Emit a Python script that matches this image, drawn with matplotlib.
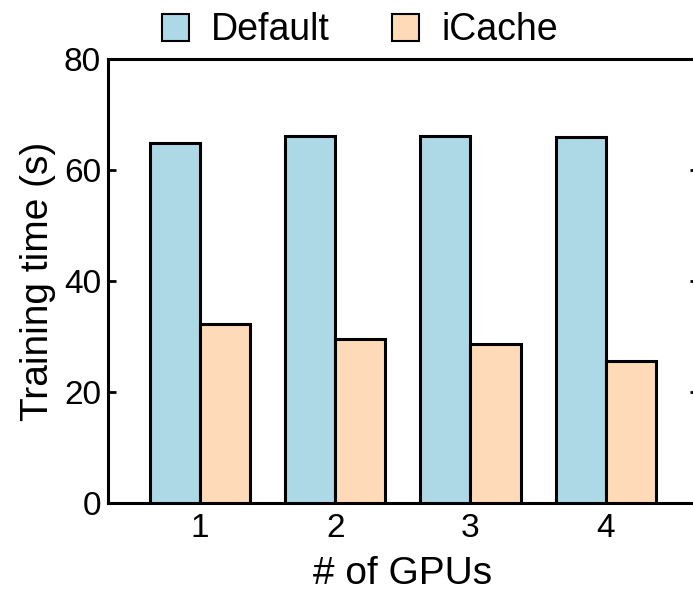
import matplotlib
matplotlib.use("Agg")
import matplotlib.pyplot as plt
import numpy as np

plt.rcParams['font.family'] = ['Liberation Sans', 'DejaVu Sans']

gpus = ["1", "2", "3", "4"]
default_time = [64.9, 66.2, 66.2, 66.0]
icache_time = [32.3, 29.5, 28.6, 25.6]
series_names = ["Default", "iCache"]
yticks = [0, 20, 40, 60, 80]

fig = plt.figure(figsize=(6.93, 5.93), dpi=100)
ax = fig.add_axes([0.1558, 0.1518, 0.851, 0.7487])

x = np.arange(1, len(gpus) + 1)
w = 0.37
lw = 2.2
ax.bar(x - w / 2, default_time, w, color="#ADD8E6", edgecolor="black",
       linewidth=lw, label=series_names[0], zorder=3)
ax.bar(x + w / 2, icache_time, w, color="#FFDAB9", edgecolor="black",
       linewidth=lw, label=series_names[1], zorder=3)

ax.set_xlim(0.32, 4.68)
ax.set_ylim(0, 80)
ax.set_xticks(x)
ax.set_xticklabels(gpus)
ax.set_yticks(yticks)
ax.tick_params(axis="both", labelsize=24, direction="in", length=6, width=2,
               right=True, top=False)
ax.tick_params(axis="x", length=0, pad=7)
ax.tick_params(axis="y", pad=5)
for s in ax.spines.values():
    s.set_linewidth(lw)

ax.set_xlabel("# of GPUs", fontsize=28, labelpad=9)
ax.set_ylabel("Training time (s)", fontsize=28, labelpad=6)

leg = ax.legend(loc="lower center", bbox_to_anchor=(0.427, 0.99), ncol=2,
                frameon=False, fontsize=27, handlelength=0.72, handleheight=0.72,
                handletextpad=0.6, columnspacing=1.65, borderaxespad=0.0)
for p in leg.get_patches():
    p.set_linewidth(1.5)

fig.savefig("out.png", dpi=100)
